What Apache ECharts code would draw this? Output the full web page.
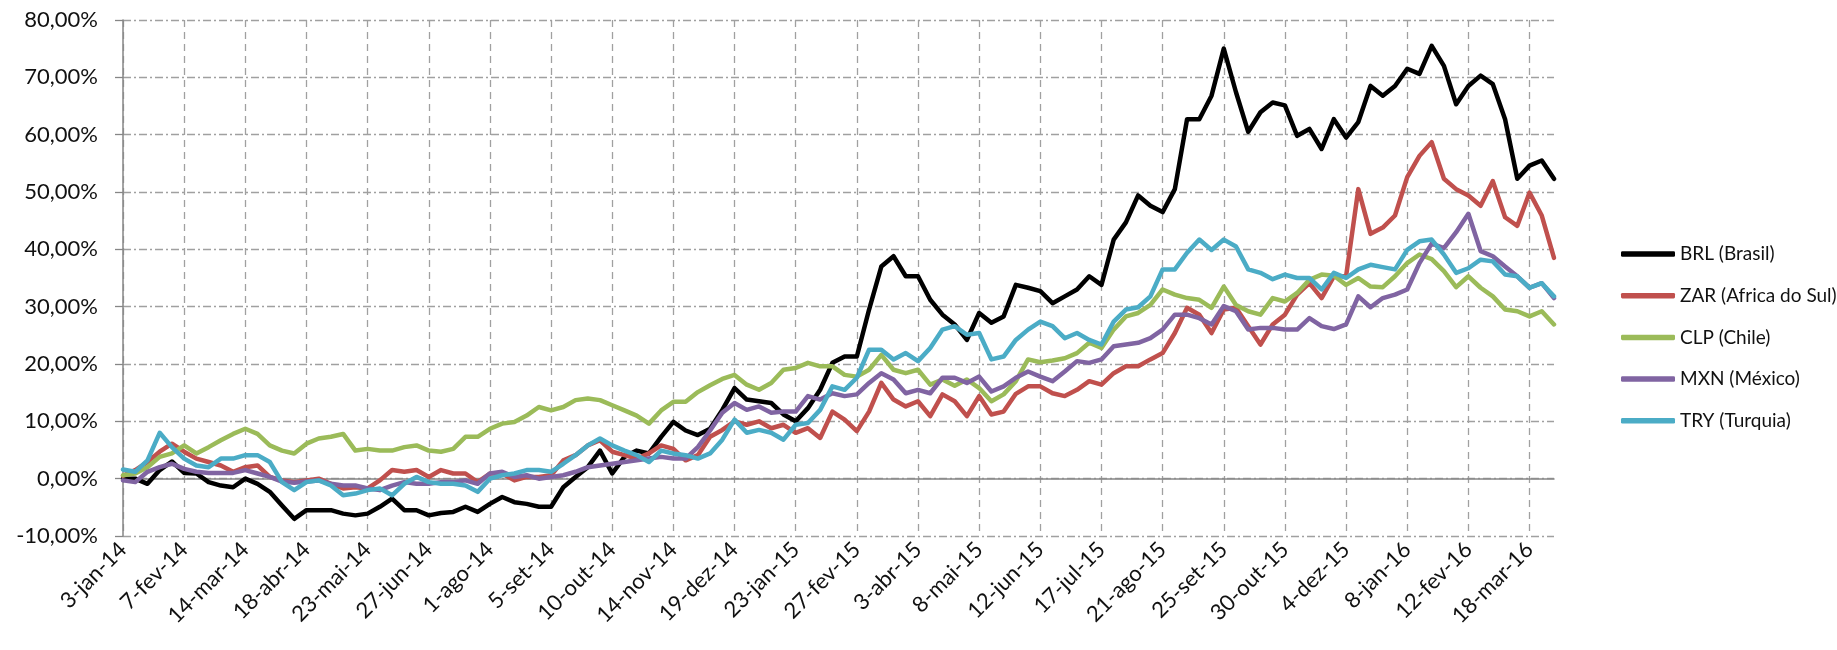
<!DOCTYPE html>
<html>
<head>
<meta charset="utf-8">
<script src="https://cdn.jsdelivr.net/npm/echarts@6/dist/echarts.min.js"></script>
<style>
  html, body { margin: 0; padding: 0; background: #fff; }
  #chart { width: 1837px; height: 650px; }
</style>
</head>
<body>
<div id="chart"></div>
<script>
// weekly readings (Fridays), cumulative change in %
const startDate = Date.UTC(2014, 0, 3);
const weekCount = 118;
const monthNames = ['jan', 'fev', 'mar', 'abr', 'mai', 'jun', 'jul', 'ago', 'set', 'out', 'nov', 'dez'];

const seriesNames = ['BRL (Brasil)', 'ZAR (Africa do Sul)', 'CLP (Chile)', 'MXN (México)', 'TRY (Turquia)'];
const seriesColors = ['#000000', '#c0504d', '#9bbb59', '#8064a2', '#4bacc6'];

const brl = [
  0, 0, -0.9, 1.5, 3.0, 1.0, 0.9, -0.6, -1.2, -1.5, 0.0, -0.9, -2.3, -4.7, -7.0, -5.5, -5.5, -5.5, -6.1, -6.4, -6.1, -4.9, -3.5, -5.5, -5.5,
  -6.4, -6.0, -5.8, -4.9, -5.8, -4.4, -3.2, -4.1, -4.4, -4.9, -4.9, -1.5, 0.3, 2.0, 4.9, 0.9, 3.8, 4.9, 4.4, 7.3, 9.9, 8.4, 7.6, 8.7, 12.0,
  15.8, 13.8, 13.5, 13.2, 11.2, 10.0, 12.3, 15.5, 20.2, 21.3, 21.3, 29.5, 37.0, 38.8, 35.3, 35.3, 31.2, 28.6, 26.9, 24.2, 28.9, 27.2, 28.3, 33.8,
  33.3, 32.7, 30.6, 31.8, 33.0, 35.3, 33.8, 41.7, 44.7, 49.4, 47.6, 46.5, 50.5, 62.7, 62.7, 66.8, 75.0, 67.4, 60.5, 63.9, 65.6, 65.1, 59.8, 61.0,
  57.5, 62.7, 59.5, 62.2, 68.5, 66.8, 68.5, 71.5, 70.6, 75.5, 72.0, 65.3, 68.5, 70.3, 68.8, 62.7, 52.3, 54.6, 55.5, 52.3
];
const zar = [
  0.5, 1.5, 2.9, 4.7, 6.1, 4.7, 3.5, 2.9, 2.3, 1.2, 2.0, 2.3, 0.3, -0.3, -0.6, -0.3, 0.0, -0.9, -1.7, -1.5, -1.7, -0.3, 1.5, 1.2, 1.5,
  0.3, 1.5, 0.9, 0.9, -0.6, 0.9, 0.9, -0.3, 0.3, 0.3, 0.6, 3.2, 4.1, 5.8, 6.7, 4.7, 4.1, 3.5, 4.4, 5.8, 5.2, 3.2, 4.1, 7.3, 8.5,
  10.0, 9.4, 10.0, 8.8, 9.4, 8.0, 8.8, 7.1, 11.7, 10.3, 8.3, 11.7, 16.7, 13.8, 12.6, 13.5, 10.9, 14.7, 13.5, 10.9, 14.4, 11.2, 11.7, 14.8,
  16.1, 16.1, 14.9, 14.4, 15.5, 17.0, 16.4, 18.4, 19.6, 19.6, 20.8, 21.9, 25.4, 29.8, 28.6, 25.4, 29.5, 29.8, 26.6, 23.4, 26.9, 28.6, 32.1, 34.1,
  31.5, 35.3, 35.3, 50.5, 42.7, 43.8, 45.9, 52.6, 56.3, 58.7, 52.3, 50.5, 49.4, 47.6, 51.9, 45.6, 44.1, 49.9, 45.9, 38.5
];
const clp = [
  0.6, 0.9, 2.0, 3.8, 4.4, 5.8, 4.4, 5.5, 6.7, 7.8, 8.7, 7.8, 5.8, 4.9, 4.4, 6.1, 7.0, 7.3, 7.8, 4.9, 5.2, 4.9, 4.9, 5.5, 5.8,
  4.9, 4.7, 5.2, 7.3, 7.3, 8.7, 9.6, 9.9, 11.0, 12.5, 11.9, 12.5, 13.7, 14.0, 13.7, 12.8, 11.9, 11.0, 9.6, 11.9, 13.4, 13.4, 15.1, 16.3, 17.4,
  18.1, 16.4, 15.5, 16.7, 19.0, 19.3, 20.2, 19.6, 19.6, 18.1, 17.8, 19.0, 21.6, 19.0, 18.4, 19.0, 16.4, 17.3, 16.2, 17.3, 15.8, 13.5, 14.7, 17.0,
  20.8, 20.3, 20.6, 21.0, 21.9, 23.7, 22.8, 26.0, 28.3, 28.9, 30.3, 33.0, 32.1, 31.5, 31.2, 29.8, 33.5, 30.3, 29.2, 28.6, 31.5, 30.9, 32.4, 34.7,
  35.6, 35.4, 33.8, 35.0, 33.5, 33.4, 35.3, 37.6, 39.1, 38.3, 36.2, 33.4, 35.3, 33.3, 31.8, 29.5, 29.2, 28.3, 29.2, 26.9
];
const mxn = [
  -0.3, -0.6, 1.2, 2.0, 2.6, 1.7, 1.2, 1.0, 1.0, 1.0, 1.5, 0.9, 0.3, -0.5, -0.7, -0.5, -0.3, -0.9, -1.2, -1.2, -1.7, -2.0, -1.2, -0.6, -0.9,
  -0.9, -0.6, -0.6, -0.3, -0.9, 0.9, 1.2, 0.3, 0.6, 0.0, 0.3, 0.6, 1.2, 2.0, 2.3, 2.6, 2.9, 3.2, 3.5, 3.8, 3.5, 3.5, 5.5, 8.4, 11.5,
  13.2, 12.0, 12.6, 11.5, 11.7, 11.7, 14.4, 13.8, 14.9, 14.4, 14.7, 16.7, 18.4, 17.3, 14.9, 15.5, 14.9, 17.6, 17.6, 16.7, 17.8, 15.2, 16.1, 17.6,
  18.7, 17.8, 17.0, 18.7, 20.5, 20.2, 20.8, 23.1, 23.4, 23.7, 24.5, 26.0, 28.6, 28.6, 28.0, 26.9, 30.1, 29.2, 26.0, 26.3, 26.3, 26.0, 26.0, 28.0,
  26.6, 26.1, 26.9, 31.8, 29.9, 31.5, 32.1, 33.0, 37.6, 41.0, 40.2, 43.0, 46.2, 39.7, 38.8, 37.0, 35.3, 33.3, 34.1, 31.5
];
const tryVals = [
  1.6, 1.2, 3.2, 8.0, 5.5, 3.5, 2.3, 2.0, 3.5, 3.5, 4.1, 4.1, 2.9, -0.6, -2.0, -0.6, -0.3, -1.2, -2.9, -2.6, -2.0, -1.7, -2.9, -0.9, 0.3,
  -0.6, -0.9, -0.9, -1.2, -2.3, 0.0, 0.6, 0.9, 1.5, 1.5, 1.2, 2.6, 4.1, 5.8, 7.0, 5.8, 4.9, 4.1, 2.9, 4.9, 4.4, 4.1, 3.5, 4.4, 6.8,
  10.3, 8.0, 8.5, 8.0, 6.8, 9.4, 9.7, 12.0, 16.1, 15.5, 17.6, 22.5, 22.5, 20.8, 21.9, 20.5, 22.8, 26.0, 26.6, 25.1, 25.4, 20.8, 21.3, 24.2,
  26.0, 27.4, 26.6, 24.5, 25.4, 24.2, 23.4, 27.4, 29.5, 29.9, 31.8, 36.5, 36.5, 39.4, 41.7, 39.9, 41.7, 40.5, 36.5, 35.9, 34.8, 35.6, 35.0, 35.0,
  33.0, 35.9, 35.0, 36.5, 37.3, 36.9, 36.5, 39.9, 41.4, 41.7, 39.1, 35.9, 36.7, 38.2, 37.9, 35.6, 35.3, 33.3, 34.1, 31.8
];
const seriesValues = [brl, zar, clp, mxn, tryVals];

// y axis range, in %
const yMin = -10;
const yMax = 80;
const yStep = 10;

// category labels: one per Friday, e.g. 3-jan-14
const categories = [];
for (let i = 0; i < weekCount; i++) {
  const d = new Date(startDate + i * 7 * 86400000);
  categories.push(d.getUTCDate() + '-' + monthNames[d.getUTCMonth()] + '-' + String(d.getUTCFullYear()).slice(2));
}

const fontName = 'Lato';
const gridColor = '#a0a0a0';
const axisColor = '#868686';

const chart = echarts.init(document.getElementById('chart'), null, { renderer: 'canvas' });

chart.setOption({
  animation: false,
  backgroundColor: '#ffffff',
  grid: { left: 123, right: 283, top: 20, bottom: 114, containLabel: false },
  legend: {
    orient: 'vertical',
    left: 1616,
    top: 239,
    itemWidth: 54,
    itemHeight: 5.5,
    itemGap: 21.7,
    icon: 'roundRect',
    textStyle: { fontFamily: fontName, fontSize: 19, color: '#111111', lineHeight: 20 },
    data: seriesNames
  },
  xAxis: [
    {
      // carries the solid line at 0% and the vertical grid
      type: 'category',
      data: categories,
      boundaryGap: false,
      axisLine: { onZero: true, lineStyle: { color: axisColor, width: 1.5 } },
      axisTick: { show: false },
      axisLabel: { show: false },
      splitLine: {
        show: true,
        interval: 4,
        lineStyle: { color: gridColor, width: 1.3, type: [7, 5] }
      }
    },
    {
      // labels at the bottom edge
      type: 'category',
      data: categories,
      boundaryGap: false,
      position: 'bottom',
      axisLine: { show: false, onZero: false },
      axisTick: { show: false },
      axisLabel: {
        interval: 4,
        rotate: 45,
        margin: 10,
        fontFamily: fontName,
        fontSize: 22,
        color: '#111111'
      },
      splitLine: { show: false }
    }
  ],
  yAxis: {
    type: 'value',
    min: yMin,
    max: yMax,
    interval: yStep,
    axisLine: { show: true, lineStyle: { color: axisColor, width: 1.5 } },
    axisTick: { show: true, length: 8, lineStyle: { color: axisColor, width: 1.3 } },
    axisLabel: {
      margin: 25,
      fontFamily: fontName,
      fontSize: 22,
      color: '#111111',
      formatter: (v) => v.toFixed(2).replace('.', ',') + '%'
    },
    splitLine: {
      show: true,
      lineStyle: { color: gridColor, width: 1.3, type: [8, 3, 2, 3] }
    }
  },
  series: seriesNames.map((name, k) => ({
    name: name,
    type: 'line',
    xAxisIndex: 0,
    data: seriesValues[k],
    showSymbol: false,
    symbol: 'none',
    lineStyle: { color: seriesColors[k], width: 4.5, join: 'round', cap: 'round' },
    itemStyle: { color: seriesColors[k] }
  }))
});
</script>
</body>
</html>
